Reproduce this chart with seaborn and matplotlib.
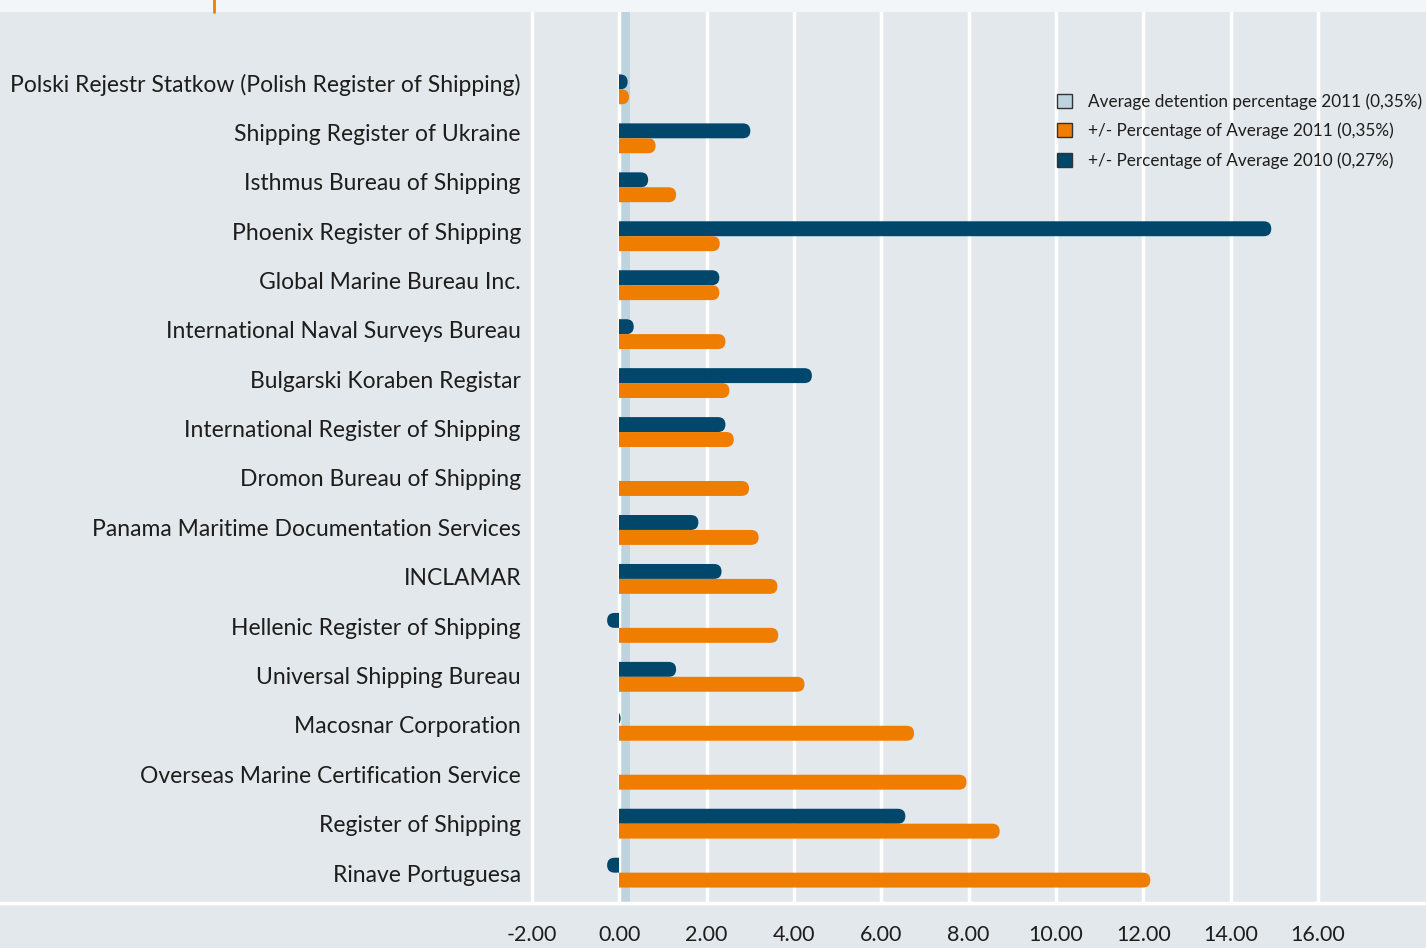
import numpy as np
import pandas as pd
import matplotlib
matplotlib.use("Agg")
import matplotlib.pyplot as plt
import seaborn as sns
from matplotlib.patches import FancyBboxPatch, Rectangle, Patch
from matplotlib.lines import Line2D

# ---- data ----
registers = [
    "Polski Rejestr Statkow (Polish Register of Shipping)",
    "Shipping Register of Ukraine",
    "Isthmus Bureau of Shipping",
    "Phoenix Register of Shipping",
    "Global Marine Bureau Inc.",
    "International Naval Surveys Bureau",
    "Bulgarski Koraben Registar",
    "International Register of Shipping",
    "Dromon Bureau of Shipping",
    "Panama Maritime Documentation Services",
    "INCLAMAR",
    "Hellenic Register of Shipping",
    "Universal Shipping Bureau",
    "Macosnar Corporation",
    "Overseas Marine Certification Service",
    "Register of Shipping",
    "Rinave Portuguesa",
]
pct_2010 = [0.19, 3.00, 0.66, 14.93, 2.29, 0.33, 4.41, 2.43, 0.0, 1.81, 2.34,
            -0.28, 1.30, 0.03, 0.0, 6.55, -0.28]
pct_2011 = [0.22, 0.83, 1.30, 2.30, 2.29, 2.43, 2.52, 2.62, 2.97, 3.19, 3.62,
            3.64, 4.24, 6.75, 7.95, 8.71, 12.16]
avg_band_2011 = 0.24
years = ["2010", "2011"]
legend_labels = [
    "Average detention percentage 2011 (0,35%)",
    "+/- Percentage of Average 2011 (0,35%)",
    "+/- Percentage of Average 2010 (0,27%)",
]
xticks = [-2, 0, 2, 4, 6, 8, 10, 12, 14, 16]

BG = "#e3e8ec"
DARK = "#00476b"
ORANGE = "#ef7d00"
BAND = "#bdd4df"
INK = "#1d1d1b"

sns.set_theme(style="white")
plt.rcParams["font.family"] = ["Lato", "DejaVu Sans"]

n = len(registers)
df = pd.DataFrame({
    "register": registers * 2,
    "year": [years[0]] * n + [years[1]] * n,
    "value": pct_2010 + pct_2011,
})

W, H = 1426, 948
fig = plt.figure(figsize=(W / 100, H / 100), dpi=100, facecolor=BG)
ax = fig.add_axes([0, 1 - 903 / H, 1, (903 - 12) / H])
ax.set_facecolor(BG)

sns.barplot(data=df, y="register", x="value", hue="year", hue_order=years,
            palette=[DARK, ORANGE], orient="h", width=0.61, saturation=1,
            legend=False, ax=ax)

# axis ranges (px per unit taken from the gridline spacing)
ppu = (1318 - 532) / 18
zero_px = 532 + 2 * ppu
xlim = (-zero_px / ppu, (W - zero_px) / ppu)
ylim = (16.62, -1.58)
ax.set_xlim(*xlim)
ax.set_ylim(*ylim)

# rounded bar ends: capsule clipped at zero
sx = W / (xlim[1] - xlim[0])
sy = (903 - 12) / (ylim[0] - ylim[1])
for p in list(ax.patches):
    w, h = p.get_width(), p.get_height()
    y0 = p.get_y()
    color = p.get_facecolor()
    p.remove()
    if w == 0:
        continue
    rx = (abs(h) * sy / 2) / sx
    if w > 0:
        left, length = -3 * rx, w + 3 * rx
        clip = Rectangle((0, -5), 100, 30, transform=ax.transData)
    else:
        left, length = w, -w + 3 * rx
        clip = Rectangle((-100, -5), 100, 30, transform=ax.transData)
    cap = FancyBboxPatch((left, y0), length, h,
                         boxstyle=f"round,pad=0,rounding_size={rx}",
                         mutation_aspect=(abs(h) / 2) / rx,
                         fc=color, ec="none", zorder=3)
    ax.add_patch(cap)
    cap.set_clip_path(clip)

ax.axvspan(0, avg_band_2011, color=BAND, zorder=0.4, lw=0)

# category labels sit on a slightly wider pitch than the bars
label_pos = [(-6.5 + i * 49.375 - i * 48.94) / 48.94 + i for i in range(n)]
ax.set_yticks(label_pos, registers)

ax.set_xticks(xticks)
ax.set_xticklabels([f"{t:.2f}" for t in xticks])
ax.set_axisbelow(True)
ax.grid(axis="x", color="white", lw=2.5)
ax.grid(axis="y", visible=False)
for s in ["top", "left", "right"]:
    ax.spines[s].set_visible(False)
ax.spines["bottom"].set_color("white")
ax.spines["bottom"].set_linewidth(2.5)
ax.set_xlabel("")
ax.set_ylabel("")
ax.tick_params(axis="x", length=0, pad=16, labelsize=15.5, labelcolor=INK)
ax.tick_params(axis="y", length=0, pad=-521 * 0.72, labelsize=16.5, labelcolor=INK)

handles = [Patch(fc=BAND, ec="#333333", lw=1),
           Patch(fc=ORANGE, ec="#333333", lw=1),
           Patch(fc=DARK, ec="#333333", lw=1)]
leg = fig.legend(handles, legend_labels, loc="upper left",
                 bbox_to_anchor=(1057 / W, 1 - 93 / H), frameon=False,
                 fontsize=12.3, handlelength=0.88, handleheight=0.88,
                 handletextpad=0.92, labelspacing=0.76, borderpad=0,
                 borderaxespad=0)
for t in leg.get_texts():
    t.set_color(INK)

# top strip
fig.add_artist(Rectangle((0, 1 - 12 / H), 1, 12 / H, transform=fig.transFigure,
                         fc="#f3f6f8", ec="none"))
fig.add_artist(Line2D([214 / W, 214 / W], [1, 1 - 12 / H],
                      transform=fig.transFigure, color=ORANGE, lw=2))

fig.savefig("out.png", dpi=100, facecolor=BG)
